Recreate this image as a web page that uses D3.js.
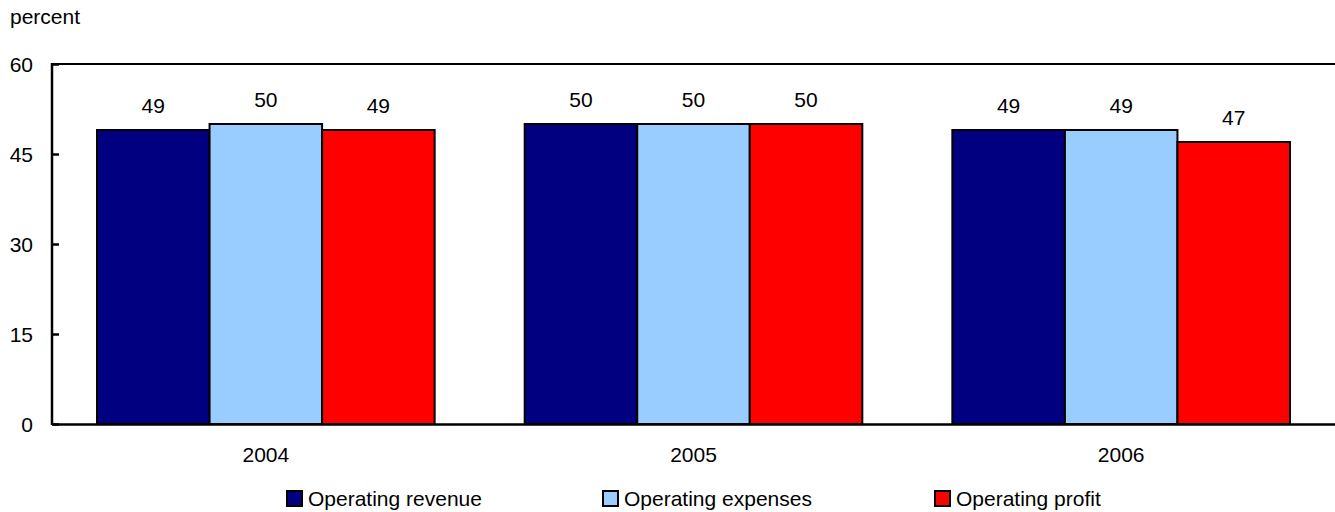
<!DOCTYPE html>
<html>
<head>
<meta charset="utf-8">
<script src="https://cdn.jsdelivr.net/npm/d3@7"></script>
<style>
  html, body { margin: 0; padding: 0; background: #fff; }
  svg { display: block; font-family: "Liberation Sans", Arial, Helvetica, sans-serif; }
</style>
</head>
<body>
<svg id="chart" width="1335" height="512"></svg>
<script>
// Share of operating revenue, expenses and profit, by year (percent)
const years = ["2004", "2005", "2006"];
const seriesNames = ["Operating revenue", "Operating expenses", "Operating profit"];
const revenue = [49, 50, 49];
const expenses = [50, 50, 49];
const profit = [49, 50, 47];
const seriesColors = ["#000080", "#99CCFF", "#FF0000"];
const yTicks = [0, 15, 30, 45, 60];
const yLabel = "percent";

const seriesValues = [revenue, expenses, profit];
const FS = 21;

const svg = d3.select("#chart");
const W = 1335, H = 512;
const margin = { left: 52, right: 0, top: 64, bottom: 88 };
const plotBottom = H - margin.bottom; // 424

const x0 = d3.scaleBand().domain(years).range([margin.left, W - margin.right]).padding(0);
const x1 = d3.scaleBand().domain(d3.range(seriesNames.length))
  .range([0, x0.bandwidth()]).paddingInner(0).paddingOuter(0.4);
const y = d3.scaleLinear().domain([0, 60]).range([plotBottom, margin.top]);

// Top frame line of the plot area
svg.append("line")
  .attr("x1", margin.left).attr("x2", W)
  .attr("y1", y(60)).attr("y2", y(60))
  .attr("stroke", "#000").attr("stroke-width", 2.2);

// Bars
const groups = svg.append("g").selectAll("g")
  .data(years).join("g")
  .attr("transform", d => `translate(${x0(d)},0)`);

groups.selectAll("rect")
  .data((d, i) => seriesValues.map((vals, s) => ({ s, v: vals[i] })))
  .join("rect")
  .attr("x", d => x1(d.s))
  .attr("y", d => y(d.v))
  .attr("width", x1.bandwidth())
  .attr("height", d => y(0) - y(d.v))
  .attr("fill", d => seriesColors[d.s])
  .attr("stroke", "#000")
  .attr("stroke-width", 2);

// Value labels
groups.selectAll("text.val")
  .data((d, i) => seriesValues.map((vals, s) => ({ s, v: vals[i] })))
  .join("text")
  .attr("class", "val")
  .attr("x", d => x1(d.s) + x1.bandwidth() / 2)
  .attr("y", d => y(d.v) - 17)
  .attr("text-anchor", "middle")
  .attr("font-size", FS)
  .attr("fill", "#000")
  .text(d => d.v);

// Y axis
const yAxis = svg.append("g")
  .attr("transform", `translate(${margin.left},0)`)
  .call(d3.axisRight(y).tickValues(yTicks).tickSize(7).tickFormat(d3.format("d")));
yAxis.select(".domain").remove();
yAxis.selectAll(".tick line").attr("stroke", "#000").attr("stroke-width", 2.5);
yAxis.selectAll(".tick text")
  .attr("x", -19).attr("text-anchor", "end")
  .attr("font-size", FS).attr("font-family", "Liberation Sans, Arial, sans-serif")
  .attr("fill", "#000").attr("dy", "0.36em");
svg.append("line")
  .attr("x1", margin.left).attr("x2", margin.left)
  .attr("y1", y(60) - 1).attr("y2", plotBottom + 1)
  .attr("stroke", "#000").attr("stroke-width", 2.5);

// X axis
const xAxis = svg.append("g")
  .attr("transform", `translate(0,${plotBottom})`)
  .call(d3.axisBottom(x0).tickSize(0).tickPadding(23));
xAxis.select(".domain").attr("stroke", "#000").attr("stroke-width", 2.5);
xAxis.selectAll(".tick text")
  .attr("font-size", FS).attr("font-family", "Liberation Sans, Arial, sans-serif")
  .attr("fill", "#000");

// Axis title
svg.append("text")
  .attr("x", 10).attr("y", 24)
  .attr("font-size", FS).attr("fill", "#000")
  .text(yLabel);

// Legend
const legendX = [287, 603, 935];
const legend = svg.append("g").selectAll("g")
  .data(seriesNames).join("g")
  .attr("transform", (d, i) => `translate(${legendX[i]},491)`);
legend.append("rect")
  .attr("width", 15).attr("height", 15)
  .attr("fill", (d, i) => seriesColors[i])
  .attr("stroke", "#000").attr("stroke-width", 2);
legend.append("text")
  .attr("x", 21).attr("y", 15)
  .attr("font-size", FS).attr("fill", "#000")
  .text(d => d);
</script>
</body>
</html>
